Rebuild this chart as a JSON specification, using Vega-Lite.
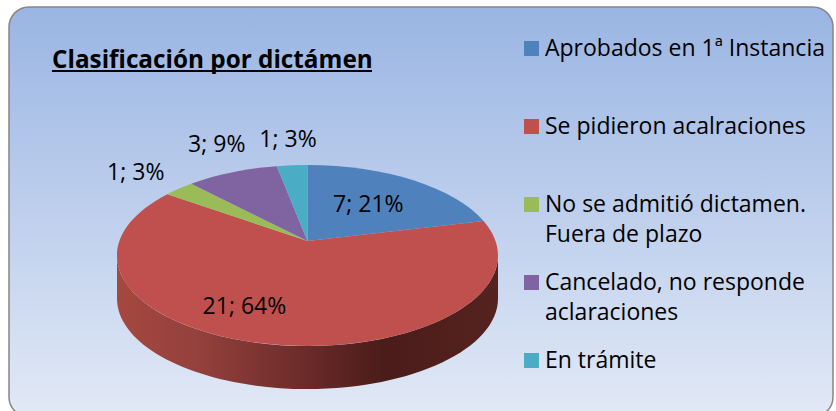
{
  "$schema": "https://vega.github.io/schema/vega-lite/v6.json",
  "width": 824,
  "height": 410,
  "autosize": {"type": "none"},
  "padding": {"left": 9, "top": 7, "right": 3, "bottom": 0},
  "background": "white",
  "view": {
    "fill": {"gradient": "linear", "x1": 0, "y1": 0, "x2": 0, "y2": 1, "stops": [{"offset": 0, "color": "#9ab5e3"}, {"offset": 1, "color": "#e2e9f6"}]},
    "stroke": "#868686",
    "strokeWidth": 1.5,
    "cornerRadius": 20
  },
  "title": {
    "text": "Clasificación por dictámen",
    "anchor": "start",
    "frame": "group",
    "orient": "top",
    "offset": -66,
    "dx": 43,
    "font": "Open Sans",
    "fontSize": 24.3,
    "fontWeight": "bold",
    "color": "black"
  },
  "config": {
    "font": "Open Sans",
    "legend": {"symbolType": "square"},
    "style": {"guide-label": {"lineHeight": 30}}
  },
  "data": {
    "values": [
      {"categoria": "Aprobados en 1ª Instancia", "n": 7, "pct": "21%", "orden": 1},
      {"categoria": "Se pidieron acalraciones", "n": 21, "pct": "64%", "orden": 2},
      {"categoria": "No se admitió dictamen. Fuera de plazo", "n": 1, "pct": "3%", "orden": 3},
      {"categoria": "Cancelado, no responde aclaraciones", "n": 3, "pct": "9%", "orden": 4},
      {"categoria": "En trámite", "n": 1, "pct": "3%", "orden": 5}
    ]
  },
  "transform": [
    {"joinaggregate": [{"op": "sum", "field": "n", "as": "total"}]},
    {"stack": "n", "sort": [{"field": "orden", "order": "ascending"}], "as": ["a0", "a1"]},
    {"calculate": "2*PI*datum.a0/datum.total", "as": "t0"},
    {"calculate": "2*PI*datum.a1/datum.total", "as": "t1"},
    {"calculate": "(datum.t0+datum.t1)/2", "as": "tm"},
    {"calculate": "-113.5+188*sin(datum.t0)/(1+0.16*cos(datum.t0))", "as": "x0"},
    {"calculate": "29-88.2*cos(datum.t0)/(1+0.16*cos(datum.t0))", "as": "y0"},
    {"calculate": "-113.5+188*sin(datum.t1)/(1+0.16*cos(datum.t1))", "as": "x1"},
    {"calculate": "29-88.2*cos(datum.t1)/(1+0.16*cos(datum.t1))", "as": "y1"},
    {"calculate": "'M-113.5 29L'+datum.x0+' '+datum.y0+'A190.5 90.5 0 '+(datum.t1-datum.t0>PI?1:0)+' 1 '+datum.x1+' '+datum.y1+'Z'", "as": "ruta"},
    {"calculate": "datum.n/datum.total<0.15?1.32:(datum.n/datum.total>0.5?0.68:0.56)", "as": "rl"},
    {"calculate": "298.5+188*datum.rl*sin(datum.tm)/(1+0.16*datum.rl*cos(datum.tm))+(datum.n/datum.total>0.5?-36:0)+(datum.orden==3?-7:datum.orden==4?5:0)", "as": "lx"},
    {"calculate": "234-88.2*datum.rl*cos(datum.tm)/(1+0.16*datum.rl*cos(datum.tm))+(datum.n/datum.total<0.15?-5:0)+(datum.orden==3?4:datum.orden==4?-4:0)", "as": "ly"},
    {"calculate": "datum.n+'; '+datum.pct", "as": "etiqueta"}
  ],
  "layer": [
    {
      "transform": [{"filter": "datum.orden==2"}],
      "mark": {
        "type": "point",
        "filled": true,
        "opacity": 1,
        "size": 4,
        "shape": "M-304 43.5A190.5 90.5 0 0 0 77 43.5L77 86.5A190.5 90.5 0 0 1 -304 86.5Z",
        "fill": {"gradient": "linear", "x1": 0, "y1": 0, "x2": 1, "y2": 0, "stops": [
          {"offset": 0, "color": "#a6483f"},
          {"offset": 0.22, "color": "#93403c"},
          {"offset": 0.48, "color": "#6d2c2a"},
          {"offset": 0.7, "color": "#4a1c1a"},
          {"offset": 1, "color": "#55231f"}
        ]}
      },
      "encoding": {}
    },
    {
      "transform": [{"filter": "datum.orden==1"}],
      "mark": {
        "type": "point",
        "filled": true,
        "opacity": 1,
        "size": 4,
        "fill": "black",
        "shape": "M-369 -142H-49V-140H-369Z"
      },
      "encoding": {}
    },
    {
      "mark": {"type": "point", "filled": true, "opacity": 1, "size": 4},
      "encoding": {
        "shape": {"field": "ruta", "type": "nominal", "scale": null, "legend": null},
        "color": {
          "field": "categoria",
          "type": "nominal",
          "sort": null,
          "scale": {
            "domain": ["Aprobados en 1ª Instancia", "Se pidieron acalraciones", "No se admitió dictamen. Fuera de plazo", "Cancelado, no responde aclaraciones", "En trámite"],
            "range": ["#4f81bd", "#c0504d", "#9bbb59", "#8064a2", "#4bacc6"]
          },
          "legend": {
            "title": null,
            "orient": "none",
            "legendX": 511,
            "legendY": 30,
            "symbolSize": 225,
            "symbolType": "square",
            "symbolStrokeWidth": 0,
            "labelFont": "Open Sans",
            "labelFontSize": 23,
            "labelColor": "black",
            "labelLimit": 320,
            "labelOffset": 2,
            "rowPadding": 24,
            "labelExpr": "datum.label=='No se admitió dictamen. Fuera de plazo'?['No se admitió dictamen.','Fuera de plazo']:datum.label=='Cancelado, no responde aclaraciones'?['Cancelado, no responde','aclaraciones']:[datum.label,' ']"
          }
        }
      }
    },
    {
      "mark": {"type": "text", "font": "Open Sans", "fontSize": 23, "color": "black", "align": "center", "baseline": "middle"},
      "encoding": {
        "x": {"field": "lx", "type": "quantitative", "scale": null},
        "y": {"field": "ly", "type": "quantitative", "scale": null},
        "text": {"field": "etiqueta", "type": "nominal"}
      }
    }
  ]
}
